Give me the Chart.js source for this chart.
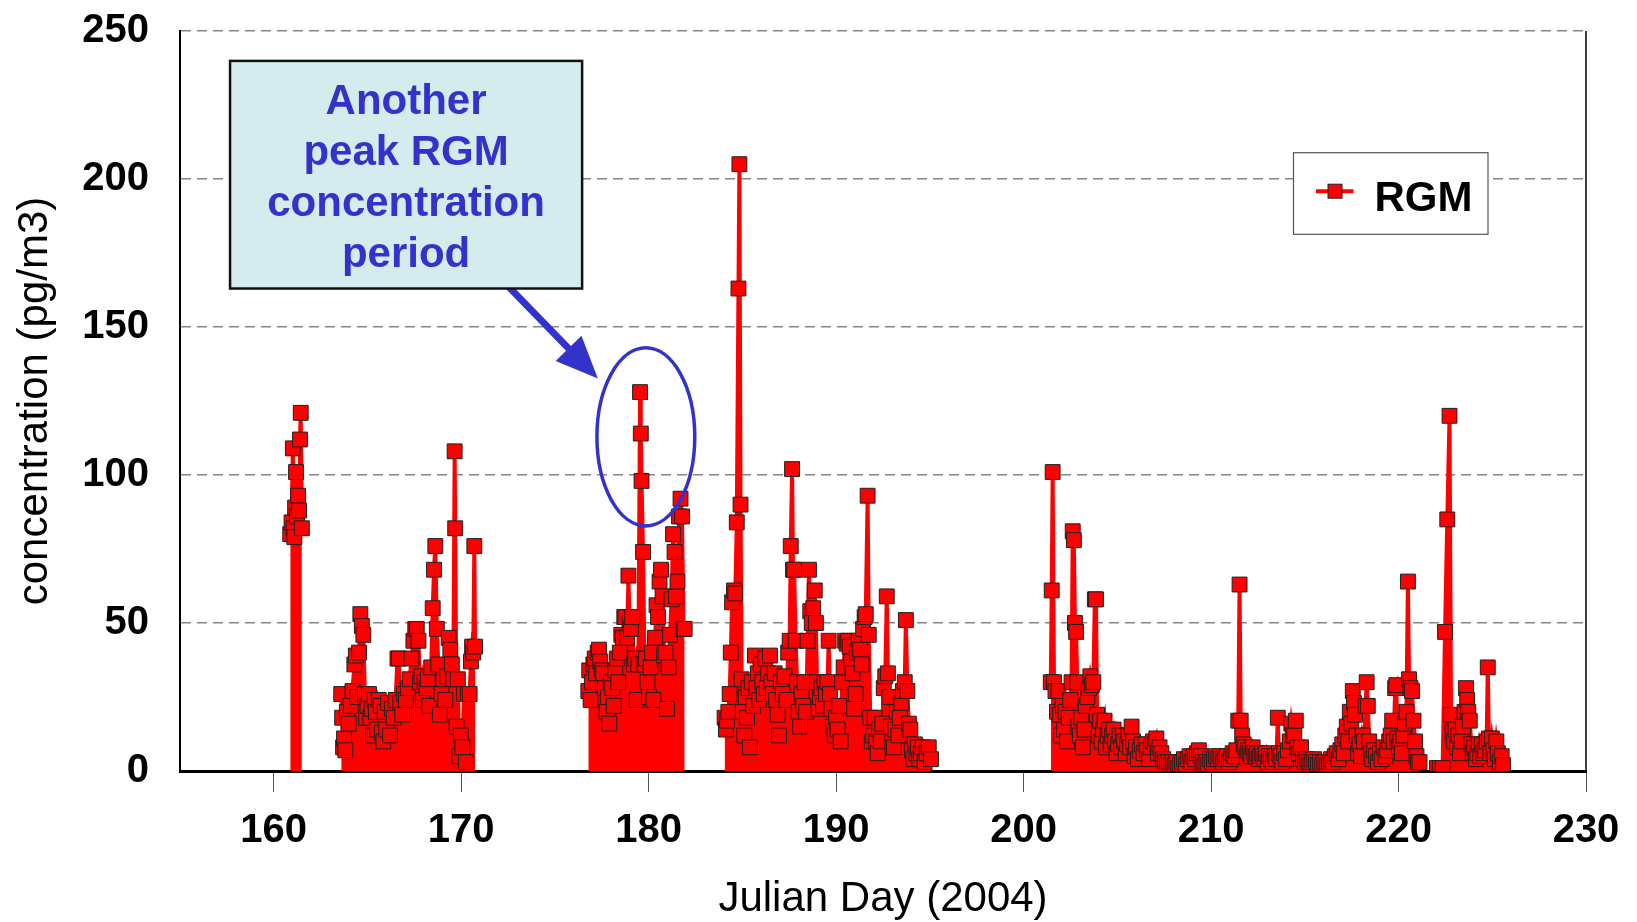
<!DOCTYPE html>
<html>
<head>
<meta charset="utf-8">
<script src="https://cdn.jsdelivr.net/npm/chart.js@4.4.1/dist/chart.umd.min.js"></script>
<style>
  html, body { margin: 0; padding: 0; background: #ffffff; }
  canvas { display: block; }
</style>
</head>
<body>
<canvas id="chart" width="1637" height="922"></canvas>
<script>
// ---------------- DATA ----------------
const seriesName = 'RGM';
const xTitle = 'Julian Day (2004)';
const yTitle = 'concentration (pg/m3)';
const xTicks = [160, 170, 180, 190, 200, 210, 220, 230];
const yTicks = [0, 50, 100, 150, 200, 250];
const calloutLines = ['Another', 'peak RGM', 'concentration', 'period'];

// Sampling period 1 (day 160.9 - 161.5)
const days1 = [160.88,160.95,161.02,161.06,161.10,161.14,161.19,161.24,161.30,161.35,161.40,161.44,161.50];
const rgm1  = [80,84,109,82,79,89,101,86,93,88,112,121,82];

// Sampling period 2 (day 163.6 - 170.7)
const days2 = [163.60,163.65,163.70,163.75,163.82,163.90,164.00,164.10,164.20,164.30,
               164.38,164.45,164.55,164.62,164.70,164.78,164.86,164.93,165.00,165.08,
               165.15,165.22,165.30,165.38,165.45,165.52,165.60,165.70,165.77,165.85,
               165.92,166.00,166.10,166.20,166.30,166.40,166.50,166.60,166.68,166.75,
               166.85,166.95,167.05,167.15,167.25,167.35,167.45,167.55,167.63,167.72,
               167.80,167.88,167.96,168.05,168.15,168.22,168.30,168.40,168.48,168.55,
               168.62,168.70,168.78,168.86,168.95,169.05,169.15,169.25,169.33,169.42,
               169.50,169.58,169.65,169.68,169.75,169.82,169.90,169.98,170.06,170.15,
               170.25,170.35,170.45,170.52,170.58,170.64,170.70,170.74];
const rgm2  = [26,18,8,11,7,20,16,22,27,36,
               39,25,40,53,49,46,26,18,22,26,
               18,21,12,24,20,14,24,22,13,10,
               20,14,23,12,21,18,24,38,38,23,
               19,26,24,28,31,38,44,48,48,44,
               30,32,24,30,28,31,22,35,55,68,
               76,48,36,19,26,31,24,32,45,41,
               36,31,108,82,15,31,5,12,8,26,
               3,26,26,37,42,40,76,42];

// Sampling period 3 (day 176.8 - 181.9)
const days3 = [176.78,176.83,176.90,176.97,177.05,177.12,177.20,177.28,177.35,177.42,
               177.50,177.58,177.66,177.75,177.82,177.90,177.98,178.06,178.14,178.22,
               178.30,178.38,178.46,178.54,178.62,178.70,178.76,178.85,178.92,178.98,
               179.05,179.12,179.20,179.28,179.36,179.45,179.54,179.58,179.62,179.70,
               179.78,179.86,179.94,180.02,180.10,180.18,180.26,180.34,180.42,180.50,
               180.58,180.66,180.74,180.82,180.90,180.98,181.06,181.14,181.22,181.30,
               181.38,181.46,181.54,181.62,181.70,181.78,181.86,181.92];
const rgm3  = [27,34,24,30,36,38,33,40,41,37,
               34,33,28,20,25,16,30,28,22,34,
               38,30,40,46,45,52,52,45,66,50,
               48,52,36,38,24,36,128,114,98,74,
               36,38,30,25,35,40,24,45,56,52,
               64,68,59,39,40,21,35,46,58,80,
               74,59,64,86,92,86,48,48];

// Sampling period 4 (day 184.0 - 195.1)
const days4 = [184.05,184.12,184.18,184.25,184.32,184.38,184.45,184.55,184.62,184.70,
               184.79,184.84,184.90,184.96,185.02,185.10,185.18,185.25,185.32,185.40,
               185.50,185.58,185.67,185.75,185.82,185.90,185.98,186.06,186.14,186.22,
               186.30,186.38,186.47,186.55,186.63,186.72,186.80,186.88,186.96,187.05,
               187.15,187.25,187.35,187.44,187.52,187.58,187.65,187.70,187.76,187.84,
               187.92,188.00,188.08,188.16,188.24,188.32,188.40,188.48,188.55,188.62,
               188.70,188.78,188.86,188.92,188.98,189.06,189.14,189.22,189.30,189.38,
               189.46,189.54,189.60,189.67,189.75,189.84,189.92,190.00,190.08,190.16,
               190.24,190.32,190.40,190.48,190.56,190.64,190.72,190.80,190.88,190.96,
               191.04,191.12,191.20,191.28,191.36,191.44,191.52,191.58,191.68,191.74,
               191.82,191.90,191.98,192.06,192.14,192.22,192.30,192.38,192.46,192.54,
               192.62,192.70,192.76,192.84,192.92,193.00,193.08,193.16,193.24,193.32,
               193.40,193.48,193.56,193.66,193.72,193.80,193.88,193.96,194.04,194.12,
               194.20,194.28,194.36,194.44,194.52,194.62,194.72,194.82,194.94,195.06];
const rgm4  = [18,14,17,20,26,40,57,61,60,84,
               163,205,90,31,20,12,25,18,28,8,
               30,22,39,28,33,24,36,30,26,38,
               28,33,39,30,26,33,24,19,12,30,
               26,32,24,40,44,76,102,68,68,44,
               30,20,15,26,22,30,20,44,68,54,
               50,55,61,50,30,21,25,28,22,30,
               26,30,44,26,21,15,12,18,14,22,
               10,30,35,44,43,44,42,37,33,21,
               26,40,44,41,36,48,52,53,93,46,
               18,10,12,18,10,6,14,10,16,28,
               32,59,33,25,15,10,8,14,20,12,
               18,23,27,30,51,27,16,14,7,4,
               9,6,8,4,6,8,3,6,8,4];

// Sampling period 5 (day 201.4 - 221.1)
const days5 = [201.45,201.50,201.55,201.62,201.70,201.78,201.86,201.93,202.00,202.08,
               202.16,202.24,202.32,202.40,202.48,202.56,202.62,202.68,202.74,202.80,
               202.86,202.92,203.00,203.08,203.16,203.24,203.32,203.40,203.48,203.56,
               203.64,203.72,203.80,203.86,203.92,204.00,204.08,204.16,204.24,204.32,
               204.40,204.48,204.56,204.64,204.72,204.80,204.88,204.96,205.04,205.12,
               205.20,205.28,205.36,205.44,205.52,205.60,205.68,205.76,205.84,205.92,
               206.00,206.10,206.20,206.30,206.40,206.50,206.60,206.70,206.80,206.90,
               207.00,207.08,207.16,207.25,207.35,207.45,207.55,207.65,207.75,207.85,
               207.95,208.05,208.15,208.25,208.35,208.45,208.55,208.65,208.75,208.85,
               208.95,209.05,209.15,209.25,209.35,209.45,209.55,209.65,209.75,209.85,
               209.95,210.05,210.15,210.25,210.35,210.45,210.55,210.65,210.75,210.85,
               210.95,211.05,211.15,211.25,211.35,211.45,211.52,211.58,211.66,211.74,
               211.82,211.90,211.98,212.06,212.14,212.22,212.30,212.38,212.46,212.54,
               212.62,212.70,212.78,212.86,212.94,213.02,213.10,213.20,213.30,213.40,
               213.48,213.56,213.62,213.70,213.80,213.90,214.00,214.10,214.20,214.28,
               214.36,214.44,214.52,214.60,214.70,214.80,214.90,215.00,215.10,215.20,
               215.30,215.40,215.50,215.60,215.70,215.80,215.90,216.00,216.10,216.20,
               216.30,216.40,216.50,216.60,216.70,216.80,216.90,217.00,217.08,217.16,
               217.24,217.32,217.40,217.48,217.56,217.62,217.68,217.76,217.84,217.92,
               218.00,218.08,218.16,218.24,218.30,218.36,218.44,218.52,218.60,218.70,
               218.80,218.90,219.00,219.10,219.20,219.30,219.40,219.50,219.58,219.66,
               219.74,219.82,219.88,219.94,220.02,220.10,220.18,220.26,220.34,220.42,
               220.50,220.56,220.64,220.72,220.80,220.88,220.96,221.04,221.12];
const rgm5  = [30,61,101,30,27,20,27,19,12,22,
               14,20,10,18,24,30,81,78,50,47,
               30,15,12,18,8,14,22,25,28,32,
               29,30,58,58,19,12,17,10,14,17,
               8,12,14,9,12,14,10,6,9,12,
               8,12,10,6,9,12,8,15,10,5,
               8,4,7,9,6,9,7,4,8,10,
               9,11,6,8,6,4,3,2,3,2,
               3,2,3,1,2,3,4,2,4,5,
               3,5,4,6,7,5,3,2,3,2,
               4,3,4,5,4,5,4,3,4,5,
               3,4,6,5,7,17,63,17,12,9,
               8,5,7,6,5,8,6,5,6,4,
               5,6,5,4,6,3,5,4,3,5,
               4,18,6,5,3,6,4,7,10,16,
               12,12,17,8,6,8,4,3,4,3,
               2,3,4,3,2,3,2,3,3,2,
               3,4,3,5,6,4,7,9,6,12,
               15,10,20,16,27,23,19,12,6,9,
               5,12,10,22,30,22,10,6,4,7,
               5,3,6,4,8,5,7,10,12,17,
               10,28,29,11,8,10,6,12,16,20,
               64,31,28,27,17,10,5,3,3];

// Sampling period 6 (day 222.0 - 225.6)
const days6 = [222.05,222.20,222.35,222.48,222.60,222.72,222.80,222.88,222.96,223.04,
               223.12,223.20,223.28,223.36,223.44,223.52,223.60,223.66,223.72,223.80,
               223.88,223.96,224.04,224.12,224.20,224.28,224.36,224.44,224.52,224.62,
               224.70,224.76,224.82,224.90,224.98,225.06,225.14,225.22,225.30,225.40,
               225.50,225.58];
const rgm6  = [1,1,1,47,85,120,19,13,10,14,
               8,12,6,10,15,20,28,24,20,17,
               9,6,8,4,6,9,5,9,6,7,
               10,35,11,6,11,7,4,10,6,3,
               5,2];

const periods = [[days1, rgm1], [days2, rgm2], [days3, rgm3], [days4, rgm4], [days5, rgm5], [days6, rgm6]];

// Build the point table (null separates measurement periods)
const points = [];
periods.forEach(([d, v], i) => {
  if (i > 0) {
    const prev = periods[i - 1][0];
    points.push({ x: (prev[prev.length - 1] + d[0]) / 2, y: null });
  }
  const n = Math.min(d.length, v.length);
  for (let k = 0; k < n; k++) points.push({ x: d[k], y: v[k] });
});

// ---------------- STYLE ----------------
const FONT = "'Liberation Sans', Arial, Helvetica, sans-serif";
const RED = '#ff0000';
const BLUE = '#3333cc';

// Annotation placement in data units
const callout = { x0: 157.67, x1: 176.45, y0: 163.0, y1: 239.9 };
const arrow = { fromX: 172.62, fromY: 163.0, toX: 177.29, toY: 132.6 };
const ring = { cx: 179.85, cy: 112.9, rx: 2.61, ry: 30.1 };

const decorations = {
  id: 'decorations',
  afterDraw(chart) {
    const { ctx, chartArea, scales } = chart;
    const xs = scales.x, ys = scales.y;
    ctx.save();

    // right frame line
    ctx.strokeStyle = '#000';
    ctx.lineWidth = 1.5;
    ctx.beginPath();
    ctx.moveTo(chartArea.right, chartArea.top);
    ctx.lineTo(chartArea.right, chartArea.bottom);
    ctx.stroke();

    // ellipse around the peak
    ctx.strokeStyle = BLUE;
    ctx.lineWidth = 3.5;
    const ecx = xs.getPixelForValue(ring.cx), ecy = ys.getPixelForValue(ring.cy);
    const erx = xs.getPixelForValue(ring.cx + ring.rx) - ecx;
    const ery = ecy - ys.getPixelForValue(ring.cy + ring.ry);
    ctx.beginPath();
    ctx.ellipse(ecx, ecy, erx, ery, 0, 0, Math.PI * 2);
    ctx.stroke();

    // arrow
    const ax0 = xs.getPixelForValue(arrow.fromX), ay0 = ys.getPixelForValue(arrow.fromY);
    const ax1 = xs.getPixelForValue(arrow.toX), ay1 = ys.getPixelForValue(arrow.toY);
    const len = Math.hypot(ax1 - ax0, ay1 - ay0);
    const ux = (ax1 - ax0) / len, uy = (ay1 - ay0) / len;
    const headL = 42, headW = 18;
    const bx = ax1 - ux * headL, by = ay1 - uy * headL;
    ctx.strokeStyle = BLUE;
    ctx.fillStyle = BLUE;
    ctx.lineWidth = 7;
    ctx.lineCap = 'butt';
    ctx.beginPath();
    ctx.moveTo(ax0 - ux * 4, ay0 - uy * 4);
    ctx.lineTo(bx + ux * 2, by + uy * 2);
    ctx.stroke();
    ctx.beginPath();
    ctx.moveTo(ax1, ay1);
    ctx.lineTo(bx - uy * headW, by + ux * headW);
    ctx.lineTo(bx + uy * headW, by - ux * headW);
    ctx.closePath();
    ctx.fill();

    // callout box
    const bx0 = xs.getPixelForValue(callout.x0), bx1 = xs.getPixelForValue(callout.x1);
    const by0 = ys.getPixelForValue(callout.y1), by1 = ys.getPixelForValue(callout.y0);
    ctx.fillStyle = '#d5ebee';
    ctx.fillRect(bx0, by0, bx1 - bx0, by1 - by0);
    ctx.strokeStyle = '#111';
    ctx.lineWidth = 2.5;
    ctx.strokeRect(bx0, by0, bx1 - bx0, by1 - by0);
    ctx.fillStyle = BLUE;
    ctx.font = 'bold 42px ' + FONT;
    ctx.textAlign = 'center';
    ctx.textBaseline = 'alphabetic';
    const cx = (bx0 + bx1) / 2;
    calloutLines.forEach((t, i) => ctx.fillText(t, cx, by0 + 53.5 + i * 51));

    // legend
    const lw = 194.5, lh = 81.6;
    const lx = chartArea.right - 292.5, ly = chartArea.top + 121.7;
    ctx.fillStyle = '#fff';
    ctx.fillRect(lx, ly, lw, lh);
    ctx.strokeStyle = '#555';
    ctx.lineWidth = 1.2;
    ctx.strokeRect(lx, ly, lw, lh);
    const my = ly + 38.5;
    ctx.strokeStyle = RED;
    ctx.lineWidth = 4;
    ctx.beginPath();
    ctx.moveTo(lx + 22.5, my);
    ctx.lineTo(lx + 60, my);
    ctx.stroke();
    ctx.fillStyle = RED;
    ctx.fillRect(lx + 34.5, my - 7, 14, 14);
    ctx.strokeStyle = '#222';
    ctx.lineWidth = 1;
    ctx.strokeRect(lx + 34.5, my - 7, 14, 14);
    ctx.fillStyle = '#000';
    ctx.font = 'bold 42px ' + FONT;
    ctx.textAlign = 'left';
    ctx.fillText(chart.data.datasets[0].label, lx + 81, ly + 58.5);

    ctx.restore();
  }
};

new Chart(document.getElementById('chart').getContext('2d'), {
  type: 'line',
  data: {
    datasets: [{
      label: seriesName,
      data: points,
      borderColor: RED,
      backgroundColor: RED,
      fill: 'origin',
      borderWidth: 4,
      tension: 0,
      spanGaps: false,
      pointStyle: 'rect',
      pointRadius: 10.5,
      pointBackgroundColor: RED,
      pointBorderColor: '#1f1f1f',
      pointBorderWidth: 1
    }]
  },
  options: {
    responsive: false,
    animation: false,
    events: [],
    layout: { padding: { top: 31, right: 51, left: 0, bottom: 0 } },
    plugins: { legend: { display: false }, tooltip: { enabled: false } },
    scales: {
      x: {
        type: 'linear',
        min: 155,
        max: 230,
        afterBuildTicks: s => { s.ticks = xTicks.map(v => ({ value: v })); },
        afterFit: s => { s.height = 151; },
        ticks: { font: { family: FONT, size: 40, weight: 'bold' }, color: '#000', padding: 15, maxRotation: 0, minRotation: 0, autoSkip: false },
        grid: { drawOnChartArea: false, drawTicks: true, tickLength: 21, color: '#555', lineWidth: 1 },
        border: { display: true, color: '#000', width: 3 },
        title: { display: true, text: xTitle, font: { family: FONT, size: 42, lineHeight: 1.0 }, color: '#000', padding: { top: 0, bottom: 2 } }
      },
      y: {
        min: 0,
        max: 250,
        afterBuildTicks: s => { s.ticks = yTicks.map(v => ({ value: v })); },
        afterFit: s => { s.width = 180; },
        ticks: { font: { family: FONT, size: 40, weight: 'bold' }, color: '#000', padding: 2 },
        grid: { drawTicks: true, tickLength: 29, tickColor: 'rgba(0,0,0,0)', color: '#858585', lineWidth: 1.5 },
        border: { display: true, color: '#000', width: 2, dash: [10, 6] },
        title: { display: true, text: yTitle, font: { family: FONT, size: 42 }, color: '#000', padding: { top: 10, bottom: 0 } }
      }
    }
  },
  plugins: [decorations]
});
</script>
</body>
</html>
